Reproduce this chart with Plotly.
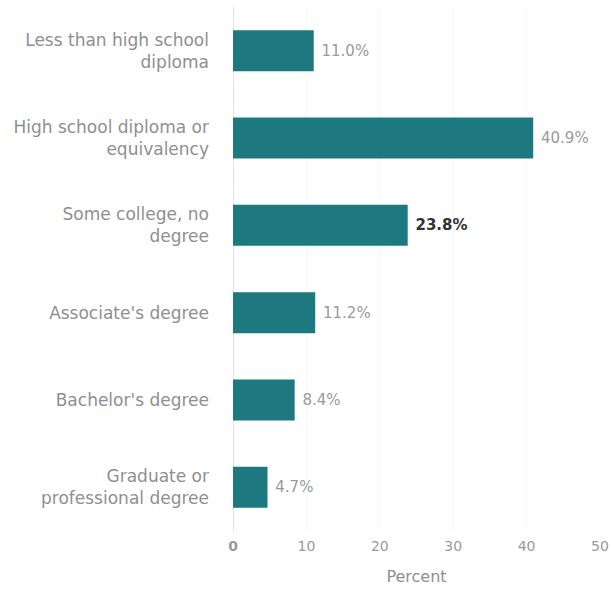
import plotly.graph_objects as go

categories = [
    "Less than high school<br>diploma",
    "High school diploma or<br>equivalency",
    "Some college, no<br>degree",
    "Associate's degree",
    "Bachelor's degree",
    "Graduate or<br>professional degree",
]
values = [11.0, 40.9, 23.8, 11.2, 8.4, 4.7]
tick_vals = [0, 10, 20, 30, 40, 50]
tick_text = ["<b>0</b>", "10", "20", "30", "40", "50"]

label_colors = ["#9a9a9a", "#9a9a9a", "#333333", "#9a9a9a", "#9a9a9a", "#9a9a9a"]
label_text = [f" <b>{v:.1f}%</b>" if i == 2 else f" {v:.1f}%" for i, v in enumerate(values)]

FONT = "DejaVu Sans"

fig = go.Figure(go.Bar(
    x=values,
    y=categories,
    orientation="h",
    marker=dict(color="#1d7880", line=dict(width=0)),
    width=0.47,
    text=label_text,
    textposition="outside",
    textfont=dict(color=label_colors, size=15, family=FONT),
    cliponaxis=False,
))

fig.update_layout(
    width=612, height=596,
    margin=dict(l=233, r=12, t=7, b=65, autoexpand=False),
    plot_bgcolor="white", paper_bgcolor="white",
    showlegend=False,
    font=dict(family=FONT, color="#8f8f8f", size=16),
    xaxis=dict(
        range=[0, 50], tickvals=tick_vals, ticktext=tick_text,
        automargin=False,
        ticklabeloverflow="allow",
        showgrid=True, gridcolor="#f7f7f7", zeroline=True, zerolinecolor="#e2e2e2",
        zerolinewidth=1, showline=False,
        ticklabelstandoff=5,
        title=dict(text="Percent", font=dict(size=16, color="#8f8f8f", family=FONT), standoff=17),
        tickfont=dict(size=14, color="#9a9a9a", family=FONT),
    ),
    yaxis=dict(
        autorange="reversed", showgrid=False, showline=False,
        automargin=False,
        ticklabelstandoff=23,
        tickfont=dict(size=17, color="#8f8f8f", family=FONT),
    ),
    bargap=0.53,
)

fig.write_html(
    "out.html",
    config={"displayModeBar": False},
    post_script="document.body.style.margin='0';document.body.style.overflow='hidden';",
)
